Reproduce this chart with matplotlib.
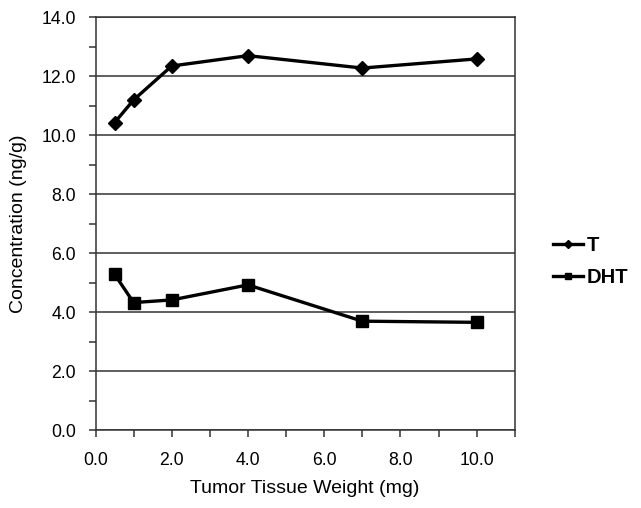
import numpy as np
import matplotlib
matplotlib.use("Agg")
import matplotlib.pyplot as plt
from matplotlib.ticker import MultipleLocator, FormatStrFormatter

plt.rcParams['font.family'] = ['Liberation Sans', 'DejaVu Sans']

# tumor tissue weight (mg)
weight = [0.5, 1.0, 2.0, 4.0, 7.0, 10.0]
# concentrations (ng/g)
t_conc = [10.42, 11.19, 12.34, 12.69, 12.27, 12.58]
dht_conc = [5.28, 4.32, 4.41, 4.92, 3.69, 3.65]

fig = plt.figure(figsize=(6.41, 5.08), dpi=100)
ax = fig.add_axes([0.149, 0.1535, 0.654, 0.813])

ax.plot(weight, t_conc, color='black', lw=2.4, marker='D', ms=7.5, label='T')
ax.plot(weight, dht_conc, color='black', lw=2.4, marker='s', ms=8, label='DHT')

ax.set_xlim(0, 11)
ax.set_ylim(0, 14)

ax.xaxis.set_major_locator(MultipleLocator(2))
ax.xaxis.set_minor_locator(MultipleLocator(1))
ax.yaxis.set_major_locator(MultipleLocator(2))
ax.yaxis.set_minor_locator(MultipleLocator(1))
ax.xaxis.set_major_formatter(FormatStrFormatter('%.1f'))
ax.yaxis.set_major_formatter(FormatStrFormatter('%.1f'))

ax.grid(axis='y', which='major', color='#333333', lw=1.1)
ax.set_axisbelow(True)

for s in ax.spines.values():
    s.set_color('#333333')
    s.set_linewidth(1.1)

ax.tick_params(which='both', direction='out', length=5, width=1.1, color='#333333',
               labelsize=12.7, top=False, right=False)
ax.tick_params(axis='x', which='major', pad=11)
ax.tick_params(axis='y', which='major', pad=9)

ax.set_xlabel('Tumor Tissue Weight (mg)', fontsize=14, labelpad=8)
ax.set_ylabel('Concentration (ng/g)', fontsize=14, labelpad=10)

leg = ax.legend(loc='center left', bbox_to_anchor=(1.091, 0.408), frameon=False,
                prop={'weight': 'bold', 'size': 14.5}, handlelength=1.5,
                handletextpad=0.2, labelspacing=0.6, markerscale=0.6,
                borderpad=0, borderaxespad=0)

fig.savefig('out.png', dpi=100)
